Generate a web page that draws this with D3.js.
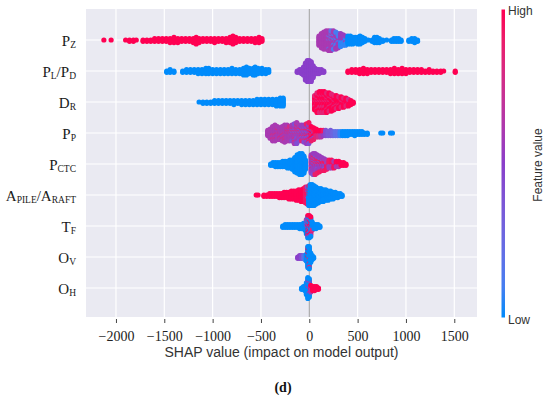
<!DOCTYPE html>
<html>
<head>
<meta charset="utf-8">
<script src="https://cdn.jsdelivr.net/npm/d3@7"></script>
<style>
  body { margin: 0; background: #fff; }
  .x-axis text { font-family: 'Liberation Serif', 'Times New Roman', serif; font-size: 14px; }
</style>
</head>
<body>
<svg id="chart" width="550" height="395"></svg>
<script>
// Feature names (top to bottom) and their label pieces [main, subscript]
var featureNames = ["PZ", "PL/PD", "DR", "PP", "PCTC", "APILE/ARAFT", "TF", "OV", "OH"];
var featureLabels = [
  [["P", "Z"]],
  [["P", "L"], ["/", ""], ["P", "D"]],
  [["D", "R"]],
  [["P", "P"]],
  [["P", "CTC"]],
  [["A", "PILE"], ["/", ""], ["A", "RAFT"]],
  [["T", "F"]],
  [["O", "V"]],
  [["O", "H"]]
];
var xTicks = [-2000, -1500, -1000, -500, 0, 500, 1000, 1500];

// Swarm bins: [SHAP value, number of points, feature value (0 = low, 1 = high)]
var pz = [
  [-2125,1,1],[-2050,1,1],
  [-1900,1,1],[-1860,2,1],[-1820,2,1],[-1790,1,1],
  [-1720,2,1],[-1680,2,1],[-1640,2,1],[-1600,3,1],[-1560,3,1],[-1520,3,1],[-1480,3,1],
  [-1440,4,1],[-1400,5,1],[-1360,4,1],[-1320,3,1],[-1280,3,1],[-1240,3,1],[-1200,4,1],
  [-1170,6,1],[-1140,4,1],[-1100,3,1],[-1060,3,1],[-1020,3,1],[-980,4,1],[-940,3,1],
  [-900,3,1],[-860,4,1],[-820,5,1],[-790,7,1],[-760,5,1],[-720,3,1],[-680,3,1],
  [-640,3,1],[-600,3,1],[-560,4,1],[-520,5,1],[-490,3,1],
  [100,8,0.6],[125,12,0.6],[150,14,0.6],[175,15,0.6],[200,13,0.6],[200,3,0.3],
  [225,12,0.6],[225,4,0.2],[250,10,0.6],[250,5,0.12],[275,9,0.58],[275,5,0.1],
  [300,7,0.58],[300,5,0.1],[325,6,0.55],[325,5,0.05],[350,5,0.55],[350,4,0.05],
  [375,3,0.55],[375,5,0.05],
  [400,7,0],[425,7,0],[450,6,0],[475,5,0],[500,6,0],[525,7,0],[550,5,0],[575,3,0],
  [610,1,0],[650,2,0],[675,5,0],[700,5,0],[725,4,0],[760,2,0],[800,1,0],[850,2,0],
  [875,3,0],[900,3,0],[925,3,0],[950,2,0],[1030,2,0],[1060,3,0],[1090,4,0],[1120,2,0]
];
var plpd = [
  [-1475,2,0],[-1440,3,0],[-1400,2,0],[-1310,2,0],[-1270,3,0],[-1230,3,0],[-1190,3,0],
  [-1150,4,0],[-1110,4,0],[-1070,5,0],[-1040,5,0],[-1000,4,0],[-960,4,0],[-920,4,0],
  [-880,4,0],[-840,4,0],[-800,5,0],[-760,4,0],[-720,4,0],[-680,6,0],[-650,7,0],
  [-620,5,0],[-580,6,0],[-560,7,0],[-530,5,0],[-490,5,0],[-450,4,0],[-420,3,0],
  [-125,2,0.5],[-100,3,0.5],[-80,4,0.5],[-60,7,0.5],[-40,14,0.5],[-20,17,0.5],
  [0,17,0.5],[20,16,0.5],[40,10,0.5],[60,5,0.5],[80,4,0.5],[100,4,0.5],
  [125,3,0.5],[150,2,0.5],
  [400,2,1],[440,3,1],[480,3,1],[520,4,1],[560,5,1],[600,4,1],[640,3,1],[680,3,1],
  [720,3,1],[760,3,1],[800,3,1],[840,4,1],[880,5,1],[920,4,1],[960,5,1],[1000,4,1],
  [1040,3,1],[1080,3,1],[1120,3,1],[1160,3,1],[1200,2,1],[1240,3,1],[1280,2,1],
  [1320,2,1],[1360,2,1],[1390,1,1],[1510,2,1]
];
var dr = [
  [-1140,1,0],[-1100,2,0],[-1060,2,0],[-1020,2,0],[-980,3,0],[-940,3,0],[-900,3,0],
  [-860,3,0],[-820,3,0],[-780,4,0],[-740,3,0],[-700,4,0],[-660,4,0],[-620,4,0],
  [-580,4,0],[-540,5,0],[-500,5,0],[-460,5,0],[-420,5,0],[-380,5,0],[-340,6,0],
  [-300,7,0],[-270,7,0],
  [55,8,1],[55,4,0.85],[80,11,1],[80,5,0.85],[105,11,1],[105,6,0.85],[130,11,1],[130,6,0.85],
  [155,11,1],[155,6,0.85],[180,11,1],[180,5,0.85],[205,10,1],[205,5,0.85],[230,10,1],
  [230,4,0.85],[255,8,1],[255,4,0.85],[280,8,1],[280,3,0.85],[305,7,1],[305,3,0.85],
  [330,6,1],[330,3,0.85],[355,6,1],[355,2,0.85],[380,5,1],[380,2,0.85],[405,4,1],
  [405,2,0.78],[430,4,1],[455,2,1]
];
var pp = [
  [-430,5,0.6],[-405,8,0.6],[-380,10,0.6],[-380,2,0.78],[-355,11,0.6],[-355,2,0.78],
  [-330,9,0.6],[-330,2,0.78],[-305,8,0.6],[-305,2,0.78],[-280,10,0.6],[-280,2,0.78],
  [-255,11,0.6],[-255,3,0.78],[-230,10,0.6],[-230,3,0.78],[-205,9,0.6],[-205,3,0.78],
  [-180,6,0.6],[-180,4,0.42],[-180,3,0.8],[-155,7,0.6],[-155,5,0.42],[-155,4,0.8],
  [-130,7,0.6],[-130,6,0.42],[-130,4,0.8],[-105,6,0.6],[-105,4,0.42],[-105,3,0.8],
  [-80,5,0.55],[-80,4,0.42],[-80,4,0.85],[-55,5,0.55],[-55,5,0.42],[-55,4,0.85],
  [-30,6,0.55],[-30,5,0.42],[-30,5,0.9],[-5,5,0.55],[-5,5,0.42],[-5,7,0.93],
  [20,4,1],[20,5,0.9],[20,3,0.55],[45,4,1],[45,4,0.9],[45,2,0.42],[70,4,1],[70,3,0.85],
  [95,3,1],[95,3,0.78],[120,3,1],[120,3,0.65],[145,3,0.93],[145,2,0.55],
  [170,5,0.42],[195,4,0.35],[220,5,0.35],[245,4,0.28],[270,4,0.2],[295,4,0.2],
  [320,4,0.05],[345,4,0],[370,4,0],[395,4,0],[420,3,0],[445,3,0],[470,4,0],[495,3,0],
  [520,3,0],[545,3,0],[570,2,0],[600,2,0],[740,1,0],[760,1,0],[840,1,0],[860,1,0]
];
var pctc = [
  [-400,2,0],[-375,3,0],[-350,4,0],[-325,4,0],[-300,4,0],[-275,5,0],[-250,5,0],
  [-225,6,0],[-200,7,0],[-175,8,0],[-150,12,0],[-125,15,0],[-100,17,0],[-75,17,0],
  [-55,14,0],[-40,8,0],
  [20,8,0.55],[20,4,0.42],[20,3,0.9],[40,8,0.55],[40,5,0.42],[40,4,0.9],[60,8,0.55],
  [60,4,0.42],[60,5,0.9],[80,7,0.55],[80,3,0.42],[80,5,0.9],[105,6,0.55],[105,3,0.42],
  [105,4,0.93],[130,5,0.55],[130,2,0.42],[130,4,0.93],[155,4,0.55],[155,2,0.42],[155,4,0.93],
  [180,4,0.58],[180,4,0.93],[205,3,0.58],[205,4,0.93],[230,3,0.6],[230,4,0.96],
  [255,2,0.6],[255,4,0.96],[280,2,0.6],[280,3,1],[305,2,0.65],[305,3,1],[330,3,1],
  [355,3,1],[380,2,1]
];
var apile = [
  [-550,1,1],[-530,1,1],[-470,2,1],[-440,2,1],[-410,3,1],[-385,3,1],[-360,3,1],
  [-335,3,1],[-310,4,1],[-285,4,1],[-260,5,1],[-235,5,1],[-210,6,1],[-185,7,1],
  [-160,7,1],[-135,8,1],[-110,9,1],[-85,10,1],[-60,11,1],[-40,13,0.93],[-20,10,0.93],
  [-20,4,0.42],
  [-5,12,0],[-5,4,0.93],[10,17,0],[30,17,0],[50,16,0],[70,14,0],[95,12,0],[120,11,0],
  [145,10,0],[170,9,0],[195,8,0],[220,7,0],[245,6,0],[270,5,0],[295,4,0],[320,3,0],
  [340,2,0]
];
var tf = [
  [-275,2,0],[-250,3,0],[-225,3,0],[-200,3,0],[-175,3,0],[-150,3,0],[-125,3,0],
  [-100,4,0],[-80,4,0],[-60,5,0],[-45,6,0],[-30,9,0],[-30,3,0.6],[-15,8,0],
  [-15,5,0.6],[-15,5,1],[0,7,0],[0,5,0.65],[0,6,1],[15,7,0],[15,4,0.6],[15,5,1],
  [30,5,0],[30,2,0.78],[50,4,0],[70,4,0],[90,3,0],[110,2,0]
];
var ov = [
  [-120,2,0.5],[-100,3,0.5],[-80,3,0.42],[-60,3,0.28],[-45,4,0.12],[-30,6,0],
  [-15,14,0],[-15,3,1],[0,15,0],[0,3,0.85],[15,8,0],[30,4,0],[45,2,0]
];
var oh = [
  [-80,2,0],[-60,3,0],[-45,4,0],[-30,10,0],[-15,15,0],[-15,2,0.55],[0,12,0],
  [0,3,0.55],[15,4,0.6],[15,2,1],[35,4,1],[55,4,1],[75,3,1],[95,2,1]
];
var swarms = [pz, plpd, dr, pp, pctc, apile, tf, ov, oh];

var serif = "'Liberation Serif', 'Times New Roman', serif";
var sans = "'Liberation Sans', Arial, sans-serif";

var svg = d3.select("#chart");
var plot = {left: 86, right: 477, top: 9, bottom: 317};
var dotR = 2.6;
var layerStep = 1.3;

var x = d3.scaleLinear().domain([-2310, 1735]).range([plot.left, plot.right]);
var y = d3.scalePoint().domain(featureNames).range([40, 288]);
var color = d3.scaleLinear()
              .domain([0, 0.5, 1])
              .range(["#008bfb", "#8a3fca", "#ff0052"])
              .interpolate(d3.interpolateLab);

// Stack the points of each bin above and below the row line
function layoutRow(bins, name) {
  var pts = [];
  d3.group(bins, function(d) { return d[0]; }).forEach(function(entries, shap) {
    var seq = [];
    entries.forEach(function(e, j) {
      for (var i = 0; i < e[1]; i++) {
        seq.push({shap: shap, fv: e[2], name: name, key: (i + 0.5) / e[1] + j * 1e-3});
      }
    });
    seq.sort(function(a, b) { return a.key - b.key; });
    seq.forEach(function(p, k) {
      p.layer = (k % 2 === 1 ? 1 : -1) * Math.ceil(k / 2);
      pts.push(p);
    });
  });
  return pts;
}

// Plot background
svg.append("rect")
   .attr("x", plot.left)
   .attr("y", plot.top)
   .attr("width", plot.right - plot.left)
   .attr("height", plot.bottom - plot.top)
   .attr("fill", "#eaeaf2");

// White grid
svg.append("g")
   .selectAll("line")
   .data(xTicks.filter(function(t) { return t !== 0; }))
   .enter().append("line")
   .attr("x1", function(d) { return x(d); })
   .attr("x2", function(d) { return x(d); })
   .attr("y1", plot.top)
   .attr("y2", plot.bottom)
   .attr("stroke", "#fff")
   .attr("stroke-width", 1.2);

svg.append("g")
   .selectAll("line")
   .data(featureNames)
   .enter().append("line")
   .attr("x1", plot.left)
   .attr("x2", plot.right)
   .attr("y1", function(d) { return y(d); })
   .attr("y2", function(d) { return y(d); })
   .attr("stroke", "#fff")
   .attr("stroke-width", 1.2);

// Zero line
svg.append("line")
   .attr("x1", x(0))
   .attr("x2", x(0))
   .attr("y1", plot.top)
   .attr("y2", plot.bottom)
   .attr("stroke", "#a0a0a0")
   .attr("stroke-width", 1);

// Dots
var points = [];
swarms.forEach(function(bins, i) {
  points = points.concat(layoutRow(bins, featureNames[i]));
});

svg.append("g")
   .selectAll("circle")
   .data(points)
   .enter().append("circle")
   .attr("cx", function(d) { return x(d.shap); })
   .attr("cy", function(d) { return y(d.name) + d.layer * layerStep; })
   .attr("r", dotR)
   .attr("fill", function(d) { return color(d.fv); });

// Feature labels with subscripts
var labels = svg.append("g")
   .selectAll("text")
   .data(featureNames)
   .enter().append("text")
   .attr("x", 76)
   .attr("y", function(d) { return y(d) + 5.5; })
   .attr("text-anchor", "end")
   .style("font-family", serif)
   .style("font-size", "15px")
   .attr("fill", "#1a1a1a");

labels.each(function(d, i) {
  var t = d3.select(this);
  var lowered = false;
  featureLabels[i].forEach(function(part) {
    var main = t.append("tspan").style("font-size", "15px").text(part[0]);
    if (lowered) { main.attr("dy", -2); lowered = false; }
    if (part[1]) {
      t.append("tspan").style("font-size", "9.5px").attr("dy", 2).text(part[1]);
      lowered = true;
    }
  });
});

// X axis
var xAxis = svg.append("g")
   .classed("x-axis", true)
   .attr("transform", "translate(0," + 319 + ")")
   .call(d3.axisBottom(x).tickValues(xTicks).tickSize(4).tickPadding(8)
           .tickFormat(d3.format("d")));
xAxis.attr("font-family", serif).attr("font-size", 14);
xAxis.select(".domain").remove();
xAxis.selectAll(".tick line").attr("stroke", "#444");
xAxis.selectAll(".tick text").attr("fill", "#222");

svg.append("text")
   .attr("x", (plot.left + plot.right) / 2)
   .attr("y", 357)
   .attr("text-anchor", "middle")
   .style("font-family", sans)
   .style("font-size", "14px")
   .attr("fill", "#333")
   .text("SHAP value (impact on model output)");

// Colour bar
var grad = svg.append("defs").append("linearGradient")
   .attr("id", "fvGrad")
   .attr("x1", 0).attr("y1", 1).attr("x2", 0).attr("y2", 0);
d3.range(0, 1.0001, 0.1).forEach(function(t) {
  grad.append("stop").attr("offset", t).attr("stop-color", color(t));
});
svg.append("rect")
   .attr("x", 501.5)
   .attr("y", 9.5)
   .attr("width", 3.5)
   .attr("height", 308)
   .attr("fill", "url(#fvGrad)");

svg.append("text")
   .attr("x", 508)
   .attr("y", 15)
   .style("font-family", sans)
   .style("font-size", "12px")
   .attr("fill", "#333")
   .text("High");
svg.append("text")
   .attr("x", 508)
   .attr("y", 324)
   .style("font-family", sans)
   .style("font-size", "12px")
   .attr("fill", "#333")
   .text("Low");
svg.append("text")
   .attr("transform", "translate(542,165) rotate(-90)")
   .attr("text-anchor", "middle")
   .style("font-family", sans)
   .style("font-size", "12px")
   .attr("fill", "#333")
   .text("Feature value");

// Panel caption
svg.append("text")
   .attr("x", 283)
   .attr("y", 392)
   .attr("text-anchor", "middle")
   .style("font-family", serif)
   .style("font-size", "14px")
   .style("font-weight", "bold")
   .attr("fill", "#111")
   .text("(d)");
</script>
</body>
</html>
